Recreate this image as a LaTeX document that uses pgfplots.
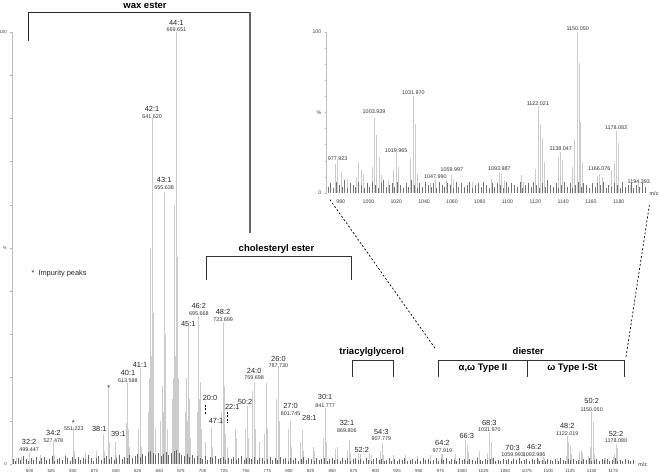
\documentclass[border=0pt]{standalone}
\usepackage{fontspec}
\setmainfont{Liberation Sans}
\usepackage{pgfplots}
\pgfplotsset{compat=1.18}
\usepackage{pgfplotstable}

% main spectrum: m/z and relative intensity (%)
\pgfplotstableread{
mz int
485 1.5
490 1.6
499.447 2.5
513 2.0
527.478 5.0
528.5 2.0
541 2.4
551.223 8.6
552.2 3.0
565 2.5
577 3.0
585 7.0
586 3.0
591.5 17.8
592.5 5.0
599 5.0
600 2.0
611.6 9.5
613.588 18.7
614.6 8.0
615.6 4.0
625.6 8.0
627.6 22.0
628.6 9.0
629.6 4.0
637.6 12
638.6 20
639.6 50
640.6 25
641.62 80
642.6 35
643.6 15
645.6 8
651.6 10
653.6 18
654.6 12
655.638 63
656.6 30
657.6 12
659.6 8
665.6 15
666.6 20
667.6 60
668.6 25
669.651 100
670.6 48
671.6 20
672.6 8
679.6 12
681.6 20
682.6 10
683.6 32
684.6 15
685.6 6
693.6 12
695.668 34
696.7 15
697.7 19
698.7 8
703.2 5
709.7 6
710.7 8.5
711.7 4
721.7 12
723.699 32.6
724.7 15
725.7 18
726.7 7
729.1 4
737.7 8
739.7 6
749.7 8
751.7 13.4
752.7 6
757.7 17
759.698 19
760.7 8
765.7 5
771.7 7
773.7 18.7
774.7 8
785.7 15
787.73 22.5
788.7 10
799.7 8
801.745 10
802.7 4
813.7 5
815.7 7.9
816.7 3
827.7 4
829.7 3
839.8 6
841.777 13
842.8 5
853.8 3.5
855.8 4
867.8 3
869.806 5.5
870.8 2.5
880 2.5
882 2.2
893 2.5
895 2.0
905.8 3.0
907.779 4.8
908.8 2.0
921 2
935 2
949 1.8
963 2
976.2 2.2
977.919 2.4
991 1.5
992.7 2.3
1003.94 5.6
1005.9 4.3
1007.5 2.7
1018.2 1.7
1019.97 3.0
1029.9 2.6
1031.97 7.2
1033.5 5.2
1035.2 1.5
1047.99 1.2
1059.99 1.5
1088.1 1.2
1093.99 1.6
1095.8 1.4
1110.2 1.3
1120.3 1.8
1122.02 6.4
1123.4 5.2
1125.4 4.1
1126.3 2.3
1136.3 2.7
1138.05 3.1
1139.2 2.5
1146.4 1.9
1148.3 4.0
1150.05 12
1151.5 9.7
1152.4 5.3
1153.7 2.3
1164.9 1.3
1166.08 1.4
1168 1.2
1175 1.7
1176.6 2.2
1178.08 4.6
1180 3.7
}\mainpeaks

% baseline noise of the main spectrum
\pgfplotstableread{
mz int
481 1.1
484 0.7
487 1.5
490 0.9
493 1.8
496 1.2
499 0.6
502 1.4
505 1.0
508 1.7
511 0.8
514 1.3
517 1.6
520 0.9
523 1.2
526 1.9
529 0.7
532 1.1
535 1.5
538 1.0
541 1.8
544 1.3
547 0.8
550 1.6
553 1.2
556 1.7
559 0.9
562 1.4
565 1.1
568 2.0
571 1.3
574 0.8
577 1.5
580 1.9
583 1.0
586 1.4
589 1.8
592 1.2
595 1.6
598 0.9
601 1.4
604 2.1
607 1.1
610 1.7
613 1.3
616 2.0
619 1.5
622 1.8
625 2.2
628 1.6
631 2.4
634 1.9
637 2.8
640 3.0
643 2.5
646 2.0
649 2.6
652 1.8
655 2.3
658 2.7
661 2.0
664 2.5
667 2.9
670 3.2
673 2.6
676 2.1
679 1.8
682 2.3
685 1.6
688 2.0
691 1.4
694 1.9
697 1.5
700 1.2
703 1.8
706 1.0
709 1.6
712 1.3
715 1.9
718 1.1
721 1.4
724 1.7
727 0.9
730 1.5
733 1.2
736 1.6
739 1.0
742 1.4
745 1.8
748 0.9
751 1.3
754 1.5
757 1.1
760 1.7
763 1.0
766 1.3
769 1.5
772 0.8
775 1.2
778 1.6
781 1.0
784 1.4
787 0.9
790 1.7
793 1.1
796 1.3
799 0.8
802 1.5
805 1.0
808 1.4
811 0.7
814 1.2
817 1.6
820 0.9
823 1.3
826 1.1
829 0.8
832 1.5
835 1.0
838 1.2
841 1.4
844 0.8
847 1.1
850 1.5
853 0.9
856 1.2
859 0.7
862 1.3
865 1.0
868 1.4
871 0.8
874 1.1
877 1.3
880 0.9
883 1.2
886 0.7
889 1.4
892 1.0
895 0.8
898 1.2
901 1.5
904 0.9
907 1.1
910 0.7
913 1.0
916 1.3
919 0.8
922 1.1
925 0.6
928 1.2
931 0.9
934 1.4
937 0.7
940 1.0
943 1.2
946 0.8
949 1.1
952 0.7
955 1.3
958 0.9
961 1.2
964 0.6
967 1.0
970 1.4
973 0.8
976 1.1
979 0.9
982 1.3
985 0.8
988 1.2
991 1.0
994 0.7
997 1.3
1000 0.9
1003 1.1
1006 0.6
1009 1.2
1012 1.0
1015 0.8
1018 1.3
1021 1.0
1024 0.7
1027 1.2
1030 0.9
1033 1.1
1036 1.4
1039 0.8
1042 1.0
1045 0.6
1048 1.2
1051 0.9
1054 1.1
1057 0.7
1060 1.1
1063 0.9
1066 1.3
1069 0.8
1072 1.0
1075 1.2
1078 0.6
1081 1.1
1084 0.9
1087 1.3
1090 0.8
1093 1.0
1096 0.7
1099 1.2
1102 0.9
1105 0.6
1108 1.1
1111 0.8
1114 1.3
1117 1.0
1120 0.7
1123 1.2
1126 0.9
1129 1.1
1132 0.8
1135 1.0
1138 0.6
1141 1.2
1144 0.9
1147 1.3
1150 0.7
1153 1.0
1156 1.1
1159 0.8
1162 1.2
1165 0.9
1168 1.1
1171 0.7
1174 1.0
1177 1.3
1180 0.8
1183 1.0
1186 0.6
1189 1.2
1192 0.9
1195 0.7
1198 1.0
}\mainnoise

% zoomed spectrum 970-1200
\pgfplotstableread{
mz int
976.2 18
977.923 20
980.2 13
985 9
991.0 10
992.7 19
994.6 14
996.3 12
1002.5 16
1003.939 46.6
1005.9 36
1007.5 22.5
1009.2 11
1014 8
1018.2 14
1019.965 25
1021.5 16
1029.9 22
1031.970 60
1033.5 43
1035.2 12
1044.6 6
1047.990 9
1056.1 8
1059.997 12
1061.4 9
1075 7
1088.1 9
1093.987 13
1095.8 12
1097.5 8
1110.2 11
1111.7 7
1120.3 15
1122.021 53.6
1123.4 43
1125.4 34
1126.3 19.5
1136.3 22.5
1138.047 25.6
1139.2 20.5
1146.4 16
1148.3 33
1150.050 100
1151.5 80.5
1152.4 44
1153.7 19.5
1164.9 10.5
1166.076 12
1168 10
1175 14
1176.6 18.6
1178.083 38.5
1180 31
1188.2 5
1194.393 6
}\insetpeaks

\pgfplotstableread{
mz int
971 4
973 6
975 3
977 7
979 5
981 4
983 8
985 3
987 6
989 5
991 4
993 7
995 5
997 3
999 6
1001 4
1003 7
1005 5
1007 3
1009 6
1011 8
1013 4
1015 5
1017 6
1019 4
1021 7
1023 5
1025 3
1027 6
1029 4
1031 8
1033 5
1035 3
1037 6
1039 4
1041 7
1043 5
1045 4
1047 6
1049 3
1051 7
1053 5
1055 4
1057 6
1059 5
1061 3
1063 7
1065 4
1067 6
1069 4
1071 5
1073 7
1075 3
1077 5
1079 6
1081 4
1083 7
1085 5
1087 3
1089 6
1091 4
1093 6
1095 5
1097 3
1099 7
1101 4
1103 6
1105 5
1107 4
1109 7
1111 3
1113 5
1115 6
1117 4
1119 7
1121 5
1123 3
1125 6
1127 4
1129 8
1131 5
1133 4
1135 6
1137 3
1139 5
1141 7
1143 4
1145 6
1147 3
1149 5
1151 7
1153 4
1155 6
1157 5
1159 3
1161 6
1163 4
1165 6
1167 5
1169 7
1171 3
1173 5
1175 4
1177 6
1179 5
1181 3
1183 7
1185 4
1187 5
1189 6
1191 3
1193 5
1195 4
1197 6
1199 4
}\insetnoise

\tikzset{
  pk/.style={font=\fontsize{7.4}{8}\selectfont, inner sep=0pt, text=black!85},
  mz/.style={font=\fontsize{5.4}{6}\selectfont, inner sep=0pt, text=black!80},
  grp/.style={font=\bfseries\fontsize{9.5}{10}\selectfont, inner sep=0pt},
}
\pgfplotsset{
  spec/.style={
    scale only axis, anchor=south west, clip=false,
    ymin=0, ymax=100,
    axis x line*=bottom, axis y line*=left,
    x axis line style={draw=none},
    y axis line style={draw=black!25, line width=0.7pt},
    xtick style={draw=none},
    ytick style={draw=black!30, line width=0.5pt},
    tick align=outside, major tick length=2pt,
    ytick={0,10,...,100}, yticklabels={0,,,,,\%,,,,,100},
    /pgf/number format/.cd, set thousands separator={}, assume math mode=true,
  },
}

\begin{document}
\begin{tikzpicture}
\path[use as bounding box] (0pt,0pt) rectangle (659pt,474pt);

\begin{axis}[spec,
  at={(12.3pt,10pt)}, width=620.9pt, height=432pt,
  xmin=480, xmax=1198,
  xtick={500,525,...,1175},
  ticklabel style={font=\fontsize{4.4}{5}\selectfont, text=black!75},
  xticklabel style={yshift=0.5pt},
]
\addplot[ycomb, draw=black!20, line width=0.8pt] table[x=mz, y=int] {\mainpeaks};
\addplot[ycomb, draw=black!60, line width=0.9pt] table[x=mz, y=int] {\mainnoise};

% class brackets
\draw[black!85, line width=0.9pt] (axis cs:499,97.9) -- (axis cs:499,104.6) -- (axis cs:755,104.6);
\draw[black!60, line width=1.4pt] (axis cs:755,104.6) -- (axis cs:755,53.5);
\node[grp] at (axis cs:633.5,106.2) {wax ester};
\draw[black!80, line width=0.9pt] (axis cs:704.8,42.6) |- (axis cs:872.5,48.0) -- (axis cs:872.5,42.6);
\node[grp] at (axis cs:785.5,49.7) {cholesteryl ester};
\draw[black!80, line width=0.9pt] (axis cs:873.2,20.2) |- (axis cs:920.6,24.07) -- (axis cs:920.6,20.2);
\node[grp] at (axis cs:895.6,26.0) {triacylglycerol};
\draw[black!80, line width=0.9pt] (axis cs:972.6,20.2) |- (axis cs:1187.4,23.9) -- (axis cs:1187.4,20.2);
\draw[black!80, line width=0.9pt] (axis cs:1075.6,23.9) -- (axis cs:1075.6,20.2);
\node[grp] at (axis cs:1076.7,26.1) {diester};
\node[grp] at (axis cs:1024.3,22.1) {α,ω Type II};
\node[grp] at (axis cs:1127.6,22.1) {ω Type I-St};
\draw[black, line width=0.7pt, dash pattern=on 2pt off 2pt] (axis cs:968.8,26.8) -- (axis cs:846.2,61.5);
\draw[black, line width=0.7pt, dash pattern=on 2pt off 2pt] (axis cs:1189.7,24.8) -- (axis cs:1216.7,59.95);
\draw[black, line width=1pt, dash pattern=on 2pt off 1.5pt] (axis cs:703.2,13.66) -- (axis cs:703.2,11.34);
\draw[black, line width=1pt, dash pattern=on 2pt off 1.5pt] (axis cs:729.1,12.1) -- (axis cs:729.1,9.56);

\node[pk, anchor=west] at (axis cs:502,44.1) {*\ \ Impurity peaks};

% peak labels
\node[pk] at (axis cs:499.447,5.0) {32:2};   \node[mz] at (axis cs:499.447,3.24) {499.447};
\node[pk] at (axis cs:527.478,7.1) {34:2};   \node[mz] at (axis cs:527.478,5.39) {527.478};
\node[pk] at (axis cs:550.5,9.4) {*};        \node[mz] at (axis cs:551.223,8.1) {551.223};
\node[pk] at (axis cs:580.6,8.0) {38:1};
\node[pk] at (axis cs:591.5,17.7) {*};
\node[pk] at (axis cs:602.6,6.9) {39:1};
\node[pk] at (axis cs:613.8,21.0) {40:1};    \node[mz] at (axis cs:613.588,19.28) {613.588};
\node[pk] at (axis cs:627.7,22.9) {41:1};
\node[pk] at (axis cs:641.62,82.3) {42:1};   \node[mz] at (axis cs:641.62,80.4) {641.620};
\node[pk] at (axis cs:655.638,65.7) {43:1};  \node[mz] at (axis cs:655.638,63.96) {655.638};
\node[pk] at (axis cs:669.651,102.2) {44:1}; \node[mz] at (axis cs:669.651,100.6) {669.651};
\node[pk] at (axis cs:683.5,32.4) {45:1};
\node[pk] at (axis cs:695.668,36.6) {46:2};  \node[mz] at (axis cs:695.668,34.9) {695.668};
\node[pk] at (axis cs:723.699,35.25) {48:2}; \node[mz] at (axis cs:723.699,33.5) {723.699};
\node[pk] at (axis cs:708.6,15.2) {20:0};
\node[pk] at (axis cs:715.6,10.0) {47:1};
\node[pk] at (axis cs:734.4,13.1) {22:1};
\node[pk] at (axis cs:749.1,14.4) {50:2};
\node[pk] at (axis cs:759.698,21.6) {24:0}; \node[mz] at (axis cs:759.698,20.0) {759.698};
\node[pk] at (axis cs:787.73,24.3) {26:0};  \node[mz] at (axis cs:787.73,22.7) {787.730};
\node[pk] at (axis cs:801.745,13.4) {27:0}; \node[mz] at (axis cs:801.745,11.7) {801.745};
\node[pk] at (axis cs:823.5,10.6) {28:1};
\node[pk] at (axis cs:841.777,15.6) {30:1}; \node[mz] at (axis cs:841.777,13.6) {841.777};
\node[pk] at (axis cs:867,9.56) {32:1};     \node[mz] at (axis cs:867,7.64) {869.806};
\node[pk] at (axis cs:884.1,3.24) {52:2};
\node[pk] at (axis cs:906.7,7.48) {54:3};   \node[mz] at (axis cs:906.7,5.79) {907.779};
\node[pk] at (axis cs:977.3,4.79) {64:2};   \node[mz] at (axis cs:977.3,3.08) {977.919};
\node[pk] at (axis cs:1005.5,6.55) {66:3};
\node[pk] at (axis cs:1031.6,9.56) {68:3};  \node[mz] at (axis cs:1031.6,7.87) {1031.970};
\node[pk] at (axis cs:1058.6,3.63) {70:3};  \node[mz] at (axis cs:1058.6,2.08) {1059.993};
\node[pk] at (axis cs:1083.5,4.0) {46:2};   \node[mz] at (axis cs:1083.5,2.25) {1093.986};
\node[pk] at (axis cs:1121.8,8.8) {48:2};   \node[mz] at (axis cs:1121.8,7.1) {1122.019};
\node[pk] at (axis cs:1150.0,14.65) {50:2}; \node[mz] at (axis cs:1150.0,12.66) {1150.050};
\node[pk] at (axis cs:1178.1,6.94) {52:2};  \node[mz] at (axis cs:1178.1,5.39) {1178.080};
\node[mz] at (axis cs:1209,-0.2) {m/z};
\end{axis}

\begin{axis}[spec,
  at={(326.8pt,281pt)}, width=319.7pt, height=161pt,
  xmin=970, xmax=1200,
  xtick={980,1000,...,1180},
  ticklabel style={font=\fontsize{5.2}{6}\selectfont, text=black!75},
  xticklabel style={yshift=-1pt},
]
\addplot[ycomb, draw=black!20, line width=0.8pt] table[x=mz, y=int] {\insetpeaks};
\addplot[ycomb, draw=black!55, line width=1pt] table[x=mz, y=int] {\insetnoise};
\node[mz] at (axis cs:977.8,21.55) {977.923};
\node[mz] at (axis cs:1003.96,50.5) {1003.939};
\node[mz] at (axis cs:1019.8,26.1) {1019.965};
\node[mz] at (axis cs:1032.2,62.3) {1031.970};
\node[mz] at (axis cs:1048.1,10.1) {1047.990};
\node[mz] at (axis cs:1059.9,14.3) {1059.997};
\node[mz] at (axis cs:1094.1,15.3) {1093.987};
\node[mz] at (axis cs:1121.9,55.7) {1122.021};
\node[mz] at (axis cs:1138.3,27.3) {1138.047};
\node[mz] at (axis cs:1150.5,102.3) {1150.050};
\node[mz] at (axis cs:1166.0,14.9) {1166.076};
\node[mz] at (axis cs:1178.1,40.8) {1178.083};
\node[mz] at (axis cs:1194.4,7.0) {1194.393};
\node[mz] at (axis cs:1205.4,-0.2) {m/z};
\end{axis}
\end{tikzpicture}
\end{document}
